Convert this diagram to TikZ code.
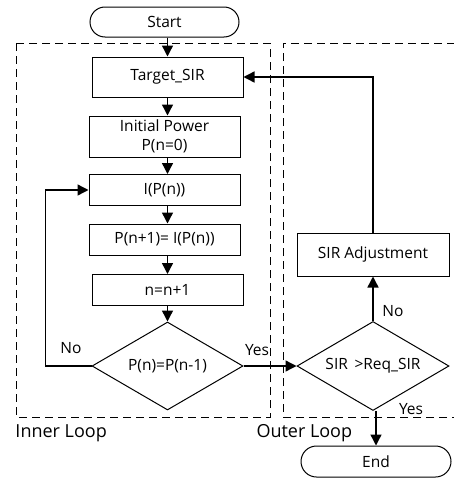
\documentclass[tikz,border=0pt]{standalone}
\usepackage{fontspec}
\setmainfont{Open Sans}
\usetikzlibrary{arrows.meta,shapes.geometric,shapes.misc}
\begin{document}
\begin{tikzpicture}[x=1pt,y=-1pt,
  font=\fontsize{15.5}{19}\selectfont,
  line width=1pt,
  arr/.style={-{Triangle[length=11pt,width=11pt]}, line width=1.4pt},
  proc/.style={draw, rectangle, minimum width=151pt, inner sep=1pt, align=center},
  term/.style={draw, rounded rectangle, minimum width=151pt, minimum height=30pt, inner sep=1pt},
  decide/.style={draw, diamond, aspect=1.72, minimum width=152pt, minimum height=89pt, inner sep=0pt},
  frame/.style={dashed, dash pattern=on 8pt off 5pt, line width=1pt},
  lbl/.style={inner sep=0pt},
  looplbl/.style={inner sep=0pt, anchor=west, font=\fontsize{18}{20}\selectfont}]
\useasboundingbox (0,0) rectangle (454,479);

% dashed loop frames
\draw[frame] (16,43) rectangle (270,417);
\draw[frame] (460,417) -- (283,417) -- (283,43) -- (460,43);
\node[looplbl] (innerlbl) at (15,433) {Inner Loop};
\node[looplbl] (outerlbl) at (256,433) {Outer Loop};

% inner loop
\node[term] (start) at (164.5,22) {Start};
\node[proc, minimum height=40pt] (target) at (167.5,77) {Target\_SIR};
\node[proc, minimum height=41pt] (init) at (164.5,136.5) {Initial Power\\P(n=0)};
\node[proc, minimum height=31pt] (ipn) at (164.5,190) {I(P(n))};
\node[proc, minimum height=31pt] (pn1) at (164.5,239.5) {P(n+1)= I(P(n))};
\node[proc, minimum height=31pt] (nn) at (167.5,290) {n=n+1};
\node[decide, minimum width=151pt, minimum height=88pt] (conv) at (167.5,366) {P(n)=P(n-1)};

% outer loop
\node[decide] (check) at (373,366) {SIR \,>Req\_SIR};
\node[proc, minimum width=152pt, minimum height=43pt] (adj) at (373,254.5) {SIR Adjustment};
\node[term, minimum width=152pt, minimum height=31pt] (end) at (376,461.5) {End};

% connectors
\draw[arr] (target.north |- start.south) -- (target.north);
\draw[arr] (target.south) -- (target.south |- init.north);
\draw[arr] (init.south -| target.south) -- (ipn.north -| target.south);
\draw[arr] (ipn.south -| target.south) -- (pn1.north -| target.south);
\draw[arr] (pn1.south -| target.south) -- (nn.north);
\draw[arr] (nn.south) -- (conv.north);
\draw[arr] (conv.west) -- ++(-46,0) |- (ipn.west);
\draw[arr] (conv.east) -- (check.west);
\draw[arr] (check.north) -- (adj.south);
\draw[arr] (adj.north) |- (target.east);
\draw[arr] (end.north |- check.south) -- (end.north);

% branch labels
\node[lbl] (noinner) at (71,348) {No};
\node[lbl] (yesinner) at (257,350) {Yes};
\node[lbl] (noouter) at (393,311) {No};
\node[lbl] (yesouter) at (411,409) {Yes};
\end{tikzpicture}
\end{document}
